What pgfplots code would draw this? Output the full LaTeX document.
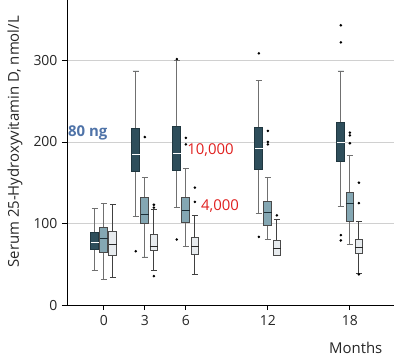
\documentclass[border=0pt]{standalone}
\usepackage{pgfplots}
\pgfplotsset{compat=1.18}
\usepgfplotslibrary{statistics}
\usepackage{fontspec}
\setmainfont{Open Sans}
\definecolor{darkc}{HTML}{2E4E5B}
\definecolor{medc}{HTML}{84A7B3}
\definecolor{lightc}{HTML}{E7EBEE}
\definecolor{edgec}{HTML}{4A4A4A}
\definecolor{whisk}{HTML}{707070}
\definecolor{ngblue}{HTML}{4F73A8}
\definecolor{redc}{HTML}{E0201F}
\definecolor{gridc}{HTML}{D0D0D0}
\pgfplotsset{
  darkbox/.style={draw=darkc!70!black, fill=darkc, line width=0.8pt,
    mark=*, mark size=0.85pt, mark options={draw=black, fill=black},
    boxplot/every median/.style={draw=white, line width=1pt},
    boxplot/every whisker/.style={draw=whisk, line width=0.8pt}},
  medbox/.style={draw=edgec, fill=medc, line width=0.8pt,
    mark=*, mark size=0.85pt, mark options={draw=black, fill=black},
    boxplot/every median/.style={draw=darkc!60!black, line width=1pt},
    boxplot/every whisker/.style={draw=whisk, line width=0.8pt}},
  lightbox/.style={draw=edgec, fill=lightc, line width=0.8pt,
    mark=*, mark size=0.85pt, mark options={draw=black, fill=black},
    boxplot/every median/.style={draw=black!85, line width=1pt},
    boxplot/every whisker/.style={draw=black!75, line width=0.8pt}},
}
\begin{document}
\begin{tikzpicture}
\begin{axis}[
  name=ax,
  scale only axis, width=327bp, height=305bp,
  xmin=-2.7, xmax=21.2, ymin=0, ymax=373.5,
  axis lines=left, axis line style={-, line width=0.8pt, black},
  xtick={0,3,6,12,18}, ytick={0,100,200,300},
  tick style={black, line width=0.8pt},
  tick align=outside, major tick length=5bp,
  ymajorgrids, grid style={gridc, line width=0.8pt},
  /pgf/number format/assume math mode=true,
  tick label style={font=\fontsize{14}{16}\selectfont, text=black!85},
  xticklabel style={yshift=-2bp},
  yticklabel style={xshift=-1bp},
  boxplot/draw direction=y,
  boxplot/box extend=0.58,
  boxplot/whisker extend=0.44,
  ylabel={Serum 25-Hydroxyvitamin D, nmol/L},
  ylabel style={at={(axis description cs:-0.159,0.536)}, anchor=center, font=\fontsize{15}{17}\selectfont, text=black!85},
  xlabel={Months},
  xlabel style={at={(axis description cs:0.884,-0.141)}, anchor=center, font=\fontsize{15}{17}\selectfont, text=black!85},
  clip=false,
]
% Month 0
\addplot[darkbox, boxplot prepared={draw position=-0.66, lower whisker=43, lower quartile=68, median=77, upper quartile=89, upper whisker=119}] coordinates {};
\addplot[medbox, boxplot prepared={draw position=0, lower whisker=31.5, lower quartile=65, median=81.6, upper quartile=95.5, upper whisker=124.5}] coordinates {};
\addplot[lightbox, boxplot prepared={draw position=0.66, lower whisker=34, lower quartile=61, median=74.7, upper quartile=90, upper whisker=123.7}] coordinates {};
% Month 3
\addplot[darkbox, boxplot prepared={draw position=2.34, lower whisker=108.6, lower quartile=163.7, median=185, upper quartile=216.7, upper whisker=287}] table[row sep=\\, y index=0] {v\\ 66\\};
\addplot[medbox, boxplot prepared={draw position=3, lower whisker=59, lower quartile=100, median=111, upper quartile=132.6, upper whisker=156}] table[row sep=\\, y index=0] {v\\ 206\\};
\addplot[lightbox, boxplot prepared={draw position=3.66, lower whisker=43, lower quartile=66.5, median=72, upper quartile=87, upper whisker=117}] table[row sep=\\, y index=0] {v\\ 123\\ 119.5\\ 35.5\\};
% Month 6
\addplot[darkbox, boxplot prepared={draw position=5.34, lower whisker=120, lower quartile=165, median=185.7, upper quartile=219.5, upper whisker=300}] table[row sep=\\, y index=0] {v\\ 301.5\\ 80.4\\};
\addplot[medbox, boxplot prepared={draw position=6, lower whisker=72, lower quartile=101, median=116, upper quartile=132, upper whisker=168}] table[row sep=\\, y index=0] {v\\ 205\\ 197\\};
\addplot[lightbox, boxplot prepared={draw position=6.66, lower whisker=37.6, lower quartile=62, median=72, upper quartile=83, upper whisker=110}] table[row sep=\\, y index=0] {v\\ 144\\ 126.5\\};
% Month 12
\addplot[darkbox, boxplot prepared={draw position=11.34, lower whisker=112, lower quartile=166, median=192, upper quartile=217.6, upper whisker=275.5}] table[row sep=\\, y index=0] {v\\ 308.6\\ 83.6\\};
\addplot[medbox, boxplot prepared={draw position=12, lower whisker=81, lower quartile=98, median=114, upper quartile=127.7, upper whisker=156}] table[row sep=\\, y index=0] {v\\ 213.5\\ 200\\ 197\\};
\addplot[lightbox, boxplot prepared={draw position=12.66, lower whisker=60.5, lower quartile=60.8, median=69.4, upper quartile=79, upper whisker=105}] table[row sep=\\, y index=0] {v\\ 110\\};
% Month 18
\addplot[darkbox, boxplot prepared={draw position=17.34, lower whisker=120.8, lower quartile=176, median=199.6, upper quartile=224, upper whisker=287}] table[row sep=\\, y index=0] {v\\ 343\\ 322\\ 85.7\\ 79.2\\};
\addplot[medbox, boxplot prepared={draw position=18, lower whisker=74.7, lower quartile=102, median=124, upper quartile=138, upper whisker=183}] table[row sep=\\, y index=0] {v\\ 211.4\\ 208\\ 198.4\\};
\addplot[lightbox, boxplot prepared={draw position=18.66, lower whisker=38.5, lower quartile=63, median=70.6, upper quartile=80, upper whisker=102}] table[row sep=\\, y index=0] {v\\ 150\\ 125\\ 37.6\\};
% annotations
\node[anchor=west, inner sep=0pt, font=\fontsize{15}{17}\selectfont\bfseries, text=ngblue] at (axis cs:-2.63,210.6) {80 ng};
\node[anchor=west, inner sep=0pt, font=\fontsize{15}{17}\selectfont, text=redc] at (axis cs:6.1,190) {10,000};
\node[anchor=west, inner sep=0pt, font=\fontsize{15}{17}\selectfont, text=redc] at (axis cs:7.1,122) {4,000};
\end{axis}
\path (ax.south west) ++(-67bp,-53bp) coordinate (bl);
\path (bl) rectangle (ax.north east);
\end{tikzpicture}
\end{document}
